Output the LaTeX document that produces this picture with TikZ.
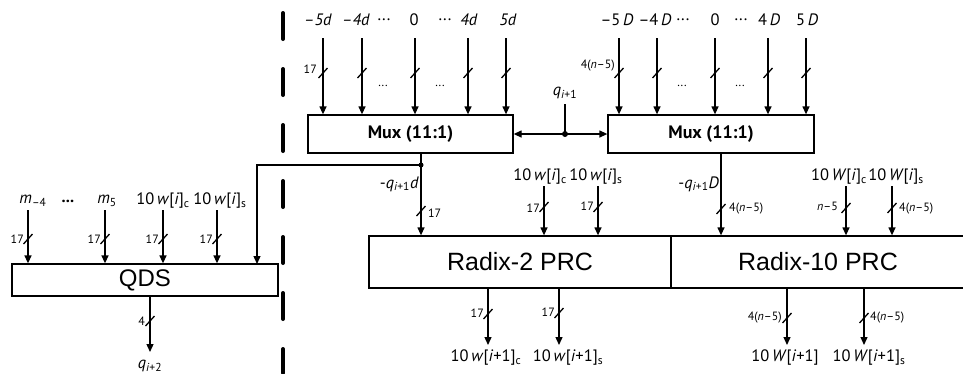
\documentclass[tikz,border=0pt]{standalone}
\usepackage{fontspec}
\setmainfont{PT Sans}
\newfontfamily\boxfont{Liberation Sans}
\usetikzlibrary{arrows.meta}
\newcommand\bslash[2]{\draw[ln] (#1-4.5,#2+5) -- (#1+4.5,#2-5);}
\begin{document}
\begin{tikzpicture}[x=1pt,y=-1pt,
  ln/.style={line width=1.3pt},
  arr/.style={line width=1.3pt,-{Triangle[length=8pt,width=7pt]}},
  darr/.style={line width=1.3pt,{Triangle[length=8pt,width=7pt]}-{Triangle[length=8pt,width=7pt]}},
  box/.style={draw,line width=1.3pt,inner sep=0pt},
  lab/.style={font=\fontsize{16.5}{18}\selectfont,inner sep=0pt},
  sm/.style={font=\fontsize{12}{13}\selectfont,inner sep=0pt},
  big/.style={font=\boxfont\fontsize{25}{27}\selectfont},
  muxf/.style={font=\bfseries\fontsize{18}{20}\selectfont}]
\useasboundingbox (0,0) rectangle (963,373);

% dashed separator
\draw[line width=4pt,line cap=round,dash pattern=on 26pt off 30pt] (283,13) -- (283,373);

% boxes
\node[box,muxf,minimum width=205pt,minimum height=38pt] (mux1) at (410.5,134) {Mux (11:1)};
\node[box,muxf,minimum width=206pt,minimum height=38pt] (mux2) at (711,134) {Mux (11:1)};
\node[box,font=\boxfont\fontsize{24}{26}\selectfont,minimum width=266pt,minimum height=32pt] (qds) at (145,280) {QDS};
\node[box,big,minimum width=302pt,minimum height=52pt] (r2) at (520,262) {Radix-2 PRC};
\node[box,big,minimum width=294pt,minimum height=52pt] (r10) at (818,262) {Radix-10 PRC};

% ---- Mux 1 inputs
\node[lab] (a1) at (318,20) {\textit{–5d}};
\node[lab] (a2) at (356,20) {\textit{–4d}};
\node[lab] (ad1) at (384,20) {...};
\node[lab] (a3) at (414,20) {0};
\node[lab] (ad2) at (445,20) {...};
\node[lab] (a4) at (469,20) {\textit{4d}};
\node[lab] (a5) at (508,20) {\textit{5d}};
\foreach \x/\n in {323/1,362/2,415/3,468/4,506/5}{
  \coordinate (ma\n) at (\x,38);
  \draw[arr] (ma\n) -- (ma\n |- mux1.north);
  \bslash{\x}{73}
}
\node[sm,anchor=east] (s17a) at (317,69) {17};
\node[sm] (md1) at (383,86) {...};
\node[sm] (md2) at (440,86) {...};

% ---- Mux 2 inputs
\node[lab] (b1) at (617,20) {–5\,\textit{D}};
\node[lab] (b2) at (655,20) {–4\,\textit{D}};
\node[lab] (bd1) at (683,20) {...};
\node[lab] (b3) at (715,20) {0};
\node[lab] (bd2) at (741,20) {...};
\node[lab] (b4) at (769,20) {4\,\textit{D}};
\node[lab] (b5) at (807,20) {5\,\textit{D}};
\foreach \x/\n in {619/1,657/2,715/3,768/4,806/5}{
  \coordinate (mb\n) at (\x,38);
  \draw[arr] (mb\n) -- (mb\n |- mux2.north);
  \bslash{\x}{73}
}
\node[sm,anchor=east] (s4a) at (615,66) {4(\textit{n}–5)};
\node[sm] (me1) at (682,86) {...};
\node[sm] (me2) at (740,86) {...};

% ---- select q_{i+1}
\node[lab] (q1) at (565,93) {\textit{q}\textsubscript{\textit{i}+1}};
\coordinate (qt) at (565,104);
\coordinate (qj) at (565,134);
\draw[darr] (mux1.east) -- (mux2.west);
\draw[ln] (qt) -- (qj);
\fill (qj) circle (3pt);

% ---- Mux 1 output
\coordinate (o1) at (421,153);
\coordinate (j1) at (421,165);
\coordinate (qin5) at (257,264);
\draw[arr] (o1) -- (o1 |- r2.north);
\fill (j1) circle (2.5pt);
\draw[arr] (j1) -| (qin5);
\node[lab,anchor=east] (l1) at (419,184) {-\textit{q}\textsubscript{\textit{i}+1}\textit{d}};
\bslash{421}{211}
\node[sm,anchor=west] (s17b) at (428,213) {17};

% ---- Mux 2 output
\coordinate (o2) at (721,153);
\draw[arr] (o2) -- (o2 |- r10.north);
\node[lab,anchor=east] (l2) at (719,184) {-\textit{q}\textsubscript{\textit{i}+1}\textit{D}};
\bslash{721}{209}
\node[sm,anchor=west] (s4b) at (729,209) {4(\textit{n}–5)};

% ---- Radix-2 inputs
\node[lab] (c1) at (540,177) {10\,\textit{w}[\textit{i}]\textsubscript{c}};
\node[lab] (c2) at (596,177) {10\,\textit{w}[\textit{i}]\textsubscript{s}};
\foreach \x/\n in {544/1,598/2}{
  \coordinate (rc\n) at (\x,186);
  \draw[arr] (rc\n) -- (rc\n |- r2.north);
  \bslash{\x}{207}
}
\node[sm,anchor=east] (s17c) at (540,208) {17};
\node[sm,anchor=east] (s17d) at (594,206) {17};

% ---- Radix-10 inputs
\node[lab] (d1) at (839,177) {10\,\textit{W}[\textit{i}]\textsubscript{c}};
\node[lab] (d2) at (896,177) {10\,\textit{W}[\textit{i}]\textsubscript{s}};
\foreach \x/\n in {846/1,892/2}{
  \coordinate (rd\n) at (\x,186);
  \draw[arr] (rd\n) -- (rd\n |- r10.north);
  \bslash{\x}{208}
}
\node[sm,anchor=east] (s5) at (838,206) {\textit{n}–5};
\node[sm,anchor=west] (s4c) at (899,209) {4(\textit{n}–5)};

% ---- Radix-2 outputs
\coordinate (ro1) at (488,345);
\coordinate (ro2) at (559,345);
\draw[arr] (ro1 |- r2.south) -- (ro1);
\draw[arr] (ro2 |- r2.south) -- (ro2);
\bslash{488}{314}
\bslash{559}{313}
\node[sm,anchor=east] (s17e) at (484,313) {17};
\node[sm,anchor=east] (s17f) at (555,312) {17};
\node[lab] (e1) at (486,358) {10\,\textit{w}[\textit{i}+1]\textsubscript{c}};
\node[lab] (e2) at (568,358) {10\,\textit{w}[\textit{i}+1]\textsubscript{s}};

% ---- Radix-10 outputs
\coordinate (so1) at (787,345);
\coordinate (so2) at (864,345);
\draw[arr] (so1 |- r10.south) -- (so1);
\draw[arr] (so2 |- r10.south) -- (so2);
\bslash{787}{318}
\bslash{864}{318}
\node[sm,anchor=east] (s4d) at (782,318) {4(\textit{n}–5)};
\node[sm,anchor=west] (s4e) at (870,318) {4(\textit{n}–5)};
\node[lab] (f1) at (785,358) {10\,\textit{W}[\textit{i}+1]};
\node[lab] (f2) at (869,358) {10\,\textit{W}[\textit{i}+1]\textsubscript{s}};

% ---- QDS inputs
\node[lab] (g1) at (33,201) {\textit{m}\textsubscript{–4}};
\node[lab] (gd) at (68,201) {\textbf{...}};
\node[lab] (g2) at (107,201) {\textit{m}\textsubscript{5}};
\node[lab] (g3) at (163,201) {10\,\textit{w}[\textit{i}]\textsubscript{c}};
\node[lab] (g4) at (220,201) {10\,\textit{w}[\textit{i}]\textsubscript{s}};
\foreach \x/\n in {28/1,105/2,163/3,217/4}{
  \coordinate (gi\n) at (\x,210);
  \draw[arr] (gi\n) -- (gi\n |- qds.north);
  \bslash{\x}{239}
}
\node[sm,anchor=east] (s17g) at (24,239) {17};
\node[sm,anchor=east] (s17h) at (101,239) {17};
\node[sm,anchor=east] (s17i) at (159,239) {17};
\node[sm,anchor=east] (s17j) at (213,239) {17};

% ---- QDS output
\coordinate (qo) at (150,352);
\draw[arr] (qo |- qds.south) -- (qo);
\bslash{150}{321}
\node[sm,anchor=east] (s4f) at (145,321) {4};
\node[lab] (q2) at (150,366) {\textit{q}\textsubscript{\textit{i}+2}};
\end{tikzpicture}
\end{document}
